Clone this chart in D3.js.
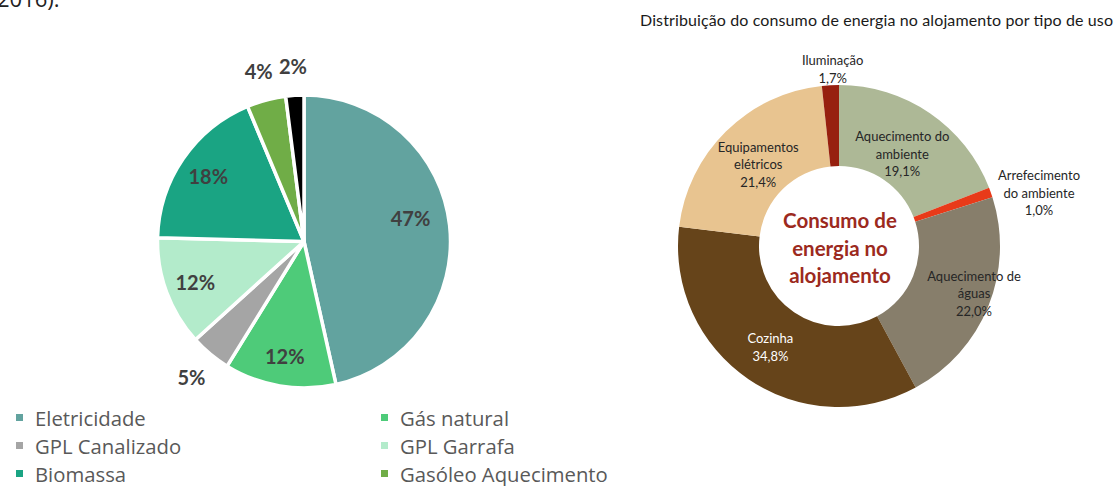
<!DOCTYPE html>
<html>
<head>
<meta charset="utf-8">
<script src="https://cdn.jsdelivr.net/npm/d3@7"></script>
<style>
  body { margin: 0; background: #fff; }
  svg { display: block; }
</style>
</head>
<body>
<div id="chart"></div>
<script>
// left pie: energy sources (labels rounded)
var fontes = ["Eletricidade", "Gás natural", "GPL Canalizado", "GPL Garrafa", "Biomassa", "Gasóleo Aquecimento", "Outros"]
var fontesValores = [46.5, 12.3, 4.5, 12.1, 18.3, 4.3, 2.0]
var fontesCores = ["#62a39f", "#4ecb79", "#a5a5a5", "#b3ebcb", "#1aa483", "#70ad47", "#000000"]

// right donut: consumption by type of use
var usos = ["Aquecimento do\nambiente", "Arrefecimento\ndo ambiente", "Aquecimento de\náguas", "Cozinha", "Equipamentos\nelétricos", "Iluminação"]
var usosValores = [19.1, 1.0, 22.0, 34.8, 21.4, 1.7]
var usosCores = ["#adb896", "#e83a19", "#877e6b", "#66441a", "#e8c490", "#97200f"]

var titulo = "Distribuição do consumo de energia no alojamento por tipo de uso"
var centroTexto = ["Consumo de", "energia no", "alojamento"]

var width = 1114, height = 486

var svg = d3.select("#chart")
  .append("svg")
  .attr("width", width)
  .attr("height", height)

// leftover text of the page above the chart
svg.append("text")
  .attr("x", -3)
  .attr("y", 7)
  .style("font-family", "Open Sans")
  .style("font-size", "22px")
  .style("fill", "#222")
  .text("2016).")

// ---------- pie ----------
var pieR = 146.5
var gPie = svg.append("g")
  .attr("transform", "translate(304,241.5)")

var pie = d3.pie().sort(null).value(function(d) { return d.v })
var fontesData = pie(fontes.map(function(n, i) { return {name: n, v: fontesValores[i]} }))

var colorF = d3.scaleOrdinal().domain(fontes).range(fontesCores)

var arcF = d3.arc().innerRadius(0).outerRadius(pieR)

gPie.selectAll("path")
  .data(fontesData)
  .enter()
  .append("path")
    .attr("d", arcF)
    .style("fill", function(d) { return colorF(d.data.name) })
    .style("stroke", "#fff")
    .style("stroke-width", 3.5)
    .style("stroke-linejoin", "round")

// small slices get their label outside
var labelArcIn = d3.arc().innerRadius(116).outerRadius(116)
var labelArcOut = d3.arc().innerRadius(176).outerRadius(176)

gPie.selectAll("text.pct")
  .data(fontesData)
  .enter()
  .append("text")
    .attr("class", "pct")
    .attr("transform", function(d, i) {
      var c
      if (d.data.v < 10) c = labelArcOut.centroid(d)
      else if (i == 0) {
        // excel "best fit" nudges the big one a bit up
        c = d3.arc().innerRadius(109).outerRadius(109)
          .centroid({startAngle: d.startAngle - 0.103, endAngle: d.endAngle - 0.103})
      }
      else c = labelArcIn.centroid(d)
      return "translate(" + c + ")"
    })
    .attr("text-anchor", "middle")
    .attr("dominant-baseline", "central")
    .style("font-family", "Lato")
    .style("font-weight", "bold")
    .style("font-size", "20px")
    .style("fill", "#404040")
    .text(function(d) { return Math.round(d.data.v) + "%" })

// legend, two columns, row by row (last row falls off the picture)
var legend = svg.selectAll("g.leg")
  .data(fontes)
  .enter()
  .append("g")
    .attr("class", "leg")
    .attr("transform", function(d, i) {
      return "translate(" + (i % 2 == 0 ? 16 : 381) + "," + (426 + Math.floor(i / 2) * 28) + ")"
    })

legend.append("rect")
  .attr("x", 0)
  .attr("y", -12)
  .attr("width", 7)
  .attr("height", 7)
  .style("fill", function(d) { return colorF(d) })

legend.append("text")
  .attr("x", 19)
  .attr("y", 0)
  .style("font-family", "Open Sans")
  .style("font-size", "20.3px")
  .style("fill", "#595959")
  .text(function(d) { return d })

// ---------- donut ----------
svg.append("text")
  .attr("x", 640)
  .attr("y", 26)
  .attr("textLength", 473)
  .attr("lengthAdjust", "spacing")
  .style("font-family", "Lato")
  .style("font-size", "16px")
  .style("fill", "#1a1a1a")
  .text(titulo)

var gDon = svg.append("g")
  .attr("transform", "translate(839,246)")

var usosData = pie(usos.map(function(n, i) { return {name: n, v: usosValores[i]} }))
var colorU = d3.scaleOrdinal().domain(usos).range(usosCores)

var arcU = d3.arc().innerRadius(80).outerRadius(161)

gDon.selectAll("path")
  .data(usosData)
  .enter()
  .append("path")
    .attr("d", arcU)
    .style("fill", function(d) { return colorU(d.data.name) })

// label radius and small angle nudge (degrees) per slice
var usosLabelPos = [
  {r: 112, da: 0},
  {r: 207, da: 4.5},
  {r: 143, da: -2.7},
  {r: 122, da: 0},
  {r: 115, da: 0},
  {r: 177, da: 1}
]
var lineH = 17.5

var lab = gDon.selectAll("g.lab")
  .data(usosData)
  .enter()
  .append("g")
    .attr("class", "lab")
    .attr("transform", function(d, i) {
      var p = usosLabelPos[i]
      var a = (d.startAngle + d.endAngle) / 2 + p.da * Math.PI / 180
      return "translate(" + (p.r * Math.sin(a)) + "," + (-p.r * Math.cos(a)) + ")"
    })

lab.each(function(d) {
  var lines = d.data.name.split("\n")
  lines.push(d.data.v.toFixed(1).replace(".", ",") + "%")
  var t = d3.select(this).append("text")
    .attr("text-anchor", "middle")
    .style("font-family", "Lato")
    .style("font-size", "13px")
    .style("fill", d.data.name == "Cozinha" ? "#fff" : "#262626")
  t.selectAll("tspan")
    .data(lines)
    .enter()
    .append("tspan")
      .attr("x", 0)
      .attr("y", function(l, j) { return (j - (lines.length - 1) / 2) * lineH })
      .attr("dominant-baseline", "central")
      .text(function(l) { return l })
})

// title in the hole
gDon.append("text")
  .attr("text-anchor", "middle")
  .style("font-family", "Lato")
  .style("font-weight", "bold")
  .style("font-size", "20.5px")
  .style("fill", "#9c2a1e")
  .selectAll("tspan")
  .data(centroTexto)
  .enter()
  .append("tspan")
    .attr("x", 1)
    .attr("y", function(l, j) { return 1.5 + (j - 1) * 27.5 })
    .attr("dominant-baseline", "central")
    .text(function(l) { return l })
</script>
</body>
</html>
